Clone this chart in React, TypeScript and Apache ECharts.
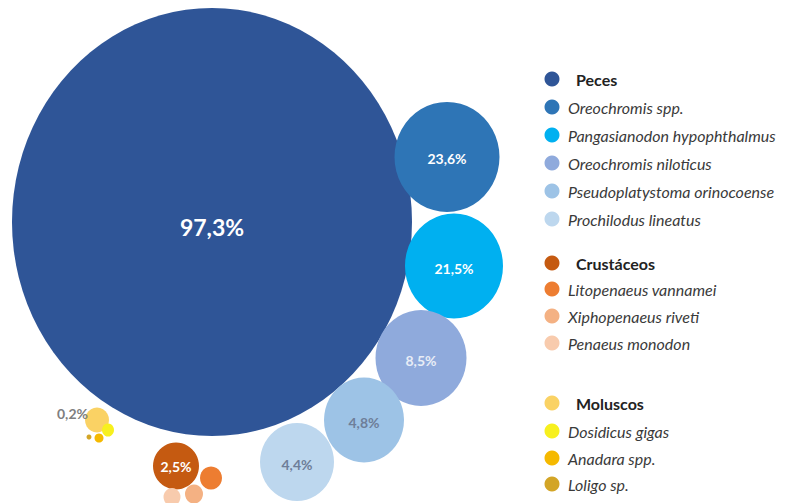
import React, { useEffect, useRef } from "react";
import * as echarts from "echarts";

// ---- data ----
const names = [
  "Peces",
  "Oreochromis spp.",
  "Pangasianodon hypophthalmus",
  "Oreochromis niloticus",
  "Pseudoplatystoma orinocoense",
  "Prochilodus lineatus",
  "Crustáceos",
  "Litopenaeus vannamei",
  "Xiphopenaeus riveti",
  "Penaeus monodon",
  "Moluscos",
  "Dosidicus gigas",
  "Anadara spp.",
  "Loligo sp.",
];
const isGroup = [true, false, false, false, false, false, true, false, false, false, true, false, false, false];
const values: (number | null)[] = [97.3, 23.6, 21.5, 8.5, 4.8, 4.4, 2.5, null, null, null, 0.2, null, null, null];
const colors = [
  "#2f5597", "#2e75b6", "#00b0f0", "#8faadc", "#9dc3e6", "#bdd7ee",
  "#c55a11", "#ed7d31", "#f4b183", "#f8cbad",
  "#fad264", "#f7f01e", "#f5b900", "#d3a526",
];

// ---- layout (pixel-space coordinates on hidden value axes) ----
const bubbleX = [212, 447, 454, 421, 364, 297, 176, 211, 194, 172, 97, 108, 99, 89];
const bubbleY = [222, 157, 266, 358, 420, 462, 466, 478, 494, 497, 420, 430, 438, 437];
const bubbleW = [400, 105, 98, 91, 80, 74, 46, 22, 18, 17, 24, 12, 9, 5];
const bubbleH = [428, 110, 105, 96, 85, 78, 47, 23, 19, 18, 25, 13, 9, 5];
const labelColor = ["#ffffff", "#ffffff", "#ffffff", "#e8edf6", "#6e7e99", "#6e7e99", "#ffffff", "", "", "", "#7f7f7f", "", "", ""];
const labelSize = [23, 14, 14, 14, 14, 14, 14, 0, 0, 0, 14, 0, 0, 0];
const labelDy = [5, 1, 2, 2, 2, 2, 0, 0, 0, 0, -7, 0, 0, 0];
const legendY = [79, 107, 135, 163, 191, 219, 263, 289, 316, 343, 403, 431, 458, 484];

const fmt = (v: number) => v.toFixed(1).replace(".", ",") + "%";

export default function App() {
  const ref = useRef<HTMLDivElement>(null);
  useEffect(() => {
    if (!ref.current) return;
    const chart = echarts.init(ref.current, null, { renderer: "svg" });
    const data = names.map((n, i) => ({
      name: n,
      value: [bubbleX[i], bubbleY[i], values[i] ?? 0],
      symbolSize: [bubbleW[i], bubbleH[i]],
      itemStyle: { color: colors[i], opacity: 1 },
      label: {
        show: values[i] !== null,
        formatter: values[i] !== null ? fmt(values[i] as number) : "",
        position: i === 10 ? "left" : "inside",
        distance: -3,
        offset: [0, labelDy[i]],
        color: labelColor[i],
        fontSize: labelSize[i] || 14,
        fontWeight: "bold",
        fontFamily: "Lato",
      },
    }));
    const graphics: any[] = [];
    names.forEach((n, i) => {
      graphics.push({
        type: "circle",
        shape: { cx: 552, cy: legendY[i], r: 7.5 },
        style: { fill: colors[i] },
      });
      graphics.push({
        type: "text",
        x: isGroup[i] ? 576 : 568,
        y: legendY[i],
        style: {
          text: n,
          fill: isGroup[i] ? "#222222" : "#3a3a3a",
          font: `${isGroup[i] ? "normal bold" : "italic normal"} 16px Lato`,
          verticalAlign: "middle",
          align: "left",
        },
      });
    });
    chart.setOption({
      animation: false,
      grid: { left: 0, right: 0, top: 14, bottom: 0 },
      xAxis: { type: "value", min: 0, max: 790, show: false },
      yAxis: { type: "value", min: 14, max: 503, inverse: true, show: false },
      series: [
        {
          type: "scatter",
          clip: true,
          data,
          emphasis: { disabled: true },
        },
      ],
      graphic: graphics,
    });
    return () => chart.dispose();
  }, []);
  return (
    <div
      ref={ref}
      style={{ position: "fixed", left: 0, top: 0, width: 790, height: 503, background: "#ffffff" }}
    />
  );
}
